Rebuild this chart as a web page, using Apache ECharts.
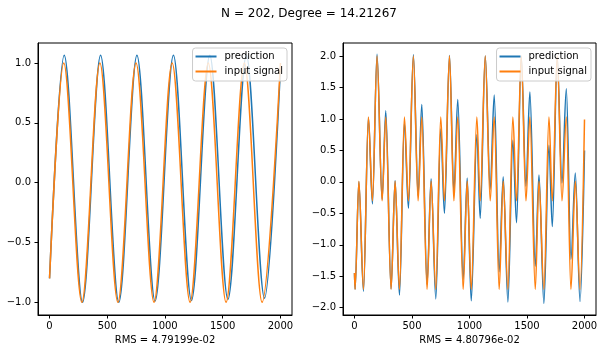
<!DOCTYPE html>
<html>
<head>
<meta charset="utf-8">
<script src="https://cdn.jsdelivr.net/npm/echarts@6/dist/echarts.min.js"></script>
<style>
html,body{margin:0;padding:0;background:#fff;}
#chart{width:607px;height:351px;}
</style>
</head>
<body>
<div id="chart"></div>
<script>
// ---- data ----
const titleText = 'N = 202, Degree = 14.21267';
const seriesNames = ['prediction', 'input signal'];
const xTicks = [0, 500, 1000, 1500, 2000];
const leftYTicks = [-1.0, -0.5, 0.0, 0.5, 1.0];
const rightYTicks = [-2.0, -1.5, -1.0, -0.5, 0.0, 0.5, 1.0, 1.5, 2.0];
const leftRms = 'RMS = 4.79199e-02';
const rightRms = 'RMS = 4.80796e-02';

// left panel: extrema of the curves
const leftInputX = [0, 123, 280, 436, 592, 749, 905, 1062, 1217, 1375, 1529, 1688, 1841, 2000];
const leftInputY = [-0.80, 1.0, -1.0, 1.0, -1.0, 1.0, -1.0, 1.0, -1.0, 1.0, -1.0, 1.0, -1.0, 1.0];
const leftPredX = [0, 127, 286, 442, 600, 757, 914, 1073, 1229, 1388, 1545, 1705, 1862, 2000];
const leftPredY = [-0.80, 1.065, -1.0, 1.065, -1.0, 1.065, -0.99, 1.065, -0.985, 1.065, -0.975, 1.065, -0.965, 0.96];

// right panel: extrema of the curves
const rightX = [0, 5, 38, 78, 121, 156, 196, 240, 272, 318, 353, 391, 434, 469, 512, 553, 585, 631, 666, 707,
  750, 782, 826, 864, 898, 945, 980, 1015, 1064, 1093, 1137, 1180, 1215, 1258, 1293, 1334, 1377, 1409, 1450, 1491,
  1525, 1572, 1604, 1647, 1691, 1720, 1763, 1804, 1842, 1882, 1920, 1961, 2000];
const rightInputY = [-1.45, -1.71, 0.01, -1.71,
  1.03, -0.30, 2.0, -0.30, 1.03, -1.71, 0.01, -1.71,
  1.03, -0.30, 2.0, -0.30, 1.03, -1.71, 0.01, -1.71,
  1.03, -0.30, 2.0, -0.30, 1.03, -1.71, 0.01, -1.71,
  1.03, -0.30, 2.0, -0.30, 1.03, -1.71, 0.01, -1.71,
  1.03, -0.30, 2.0, -0.30, 1.03, -1.71, 0.01, -1.71,
  1.03, -0.30, 2.0, -0.30, 1.03, -1.71, 0.01, -1.71,
  0.99];
const rightPredY = [-1.45, -1.71, 0.0, -1.74,
  1.02, -0.35, 2.03, -0.28, 1.13, -1.70, 0.02, -1.80,
  0.93, -0.42, 2.02, -0.22, 1.23, -1.63, 0.05, -1.86,
  0.84, -0.50, 2.01, -0.17, 1.31, -1.55, 0.06, -1.89,
  0.75, -0.58, 2.0, -0.12, 1.38, -1.43, 0.08, -1.91,
  0.66, -0.65, 1.99, -0.07, 1.43, -1.34, 0.11, -1.93,
  0.58, -0.71, 1.98, -0.02, 1.48, -1.23, 0.14, -1.90,
  0.50];

const pair = (xs, ys) => xs.map((x, i) => [x, ys[i]]);
const FONT = 'DejaVu Sans';
const BLUE = '#1f77b4', ORANGE = '#ff7f0e';
const fmt = v => (Math.round(v * 10) / 10).toFixed(1).replace('-', '\u2212');

function xAxisCfg(gridIndex, name) {
  return {
    type: 'value', gridIndex, min: -100, max: 2100,
    name, nameLocation: 'middle', nameGap: 17,
    nameTextStyle: {fontFamily: FONT, fontSize: 10, color: '#000'},
    splitLine: {show: false},
    axisLine: {show: true, onZero: false, lineStyle: {color: '#000', width: 1}},
    axisTick: {show: true, inside: false, length: 3.5, lineStyle: {color: '#000'}, customValues: xTicks},
    axisLabel: {show: true, margin: 6, fontFamily: FONT, fontSize: 10, color: '#000', customValues: xTicks,
      formatter: v => String(v)}
  };
}
function yAxisCfg(gridIndex, min, max, ticks) {
  return {
    type: 'value', gridIndex, min, max,
    splitLine: {show: false},
    axisLine: {show: true, onZero: false, lineStyle: {color: '#000', width: 1}},
    axisTick: {show: true, inside: false, length: 3.5, lineStyle: {color: '#000'}, customValues: ticks},
    axisLabel: {show: true, margin: 7, fontFamily: FONT, fontSize: 10, color: '#000', customValues: ticks,
      formatter: fmt}
  };
}
function lineSeries(name, color, xi, data) {
  return {
    type: 'line', name, xAxisIndex: xi, yAxisIndex: xi, data,
    showSymbol: false, symbol: 'none',
    smooth: 0.333, smoothMonotone: 'x',
    lineStyle: {color, width: 1.5}, itemStyle: {color},
    emphasis: {disabled: true}
  };
}
function legendCfg(right) {
  return {
    data: seriesNames, orient: 'vertical', right, top: 48,
    icon: 'rect', itemWidth: 21, itemHeight: 2, itemGap: 2,
    padding: [2, 4, 3, 3],
    backgroundColor: 'rgba(255,255,255,0.8)', borderColor: '#cccccc', borderWidth: 1, borderRadius: 3,
    textStyle: {fontFamily: FONT, fontSize: 10, color: '#000', lineHeight: 13, padding: [0, 0, 0, 3]},
    selectedMode: false
  };
}

const chart = echarts.init(document.getElementById('chart'), null, {renderer: 'canvas'});
chart.setOption({
  animation: false,
  backgroundColor: '#fff',
  grid: [
    {left: 38, top: 43, width: 254, height: 272, show: true, borderColor: '#000', borderWidth: 1, backgroundColor: 'transparent'},
    {left: 343, top: 43, width: 253, height: 272, show: true, borderColor: '#000', borderWidth: 1, backgroundColor: 'transparent'}
  ],
  xAxis: [xAxisCfg(0, leftRms), xAxisCfg(1, rightRms)],
  yAxis: [yAxisCfg(0, -1.106, 1.167, leftYTicks), yAxisCfg(1, -2.116, 2.207, rightYTicks)],
  legend: [legendCfg(320), legendCfg(16)],
  graphic: [{
    type: 'text', x: 309, y: 14,
    style: {text: titleText, textAlign: 'center', textVerticalAlign: 'middle',
      font: '12px "DejaVu Sans"', fill: '#000'}
  }],
  series: [
    lineSeries(seriesNames[0], BLUE, 0, pair(leftPredX, leftPredY)),
    lineSeries(seriesNames[1], ORANGE, 0, pair(leftInputX, leftInputY)),
    lineSeries(seriesNames[0], BLUE, 1, pair(rightX, rightPredY)),
    lineSeries(seriesNames[1], ORANGE, 1, pair(rightX, rightInputY))
  ]
});
</script>
</body>
</html>
